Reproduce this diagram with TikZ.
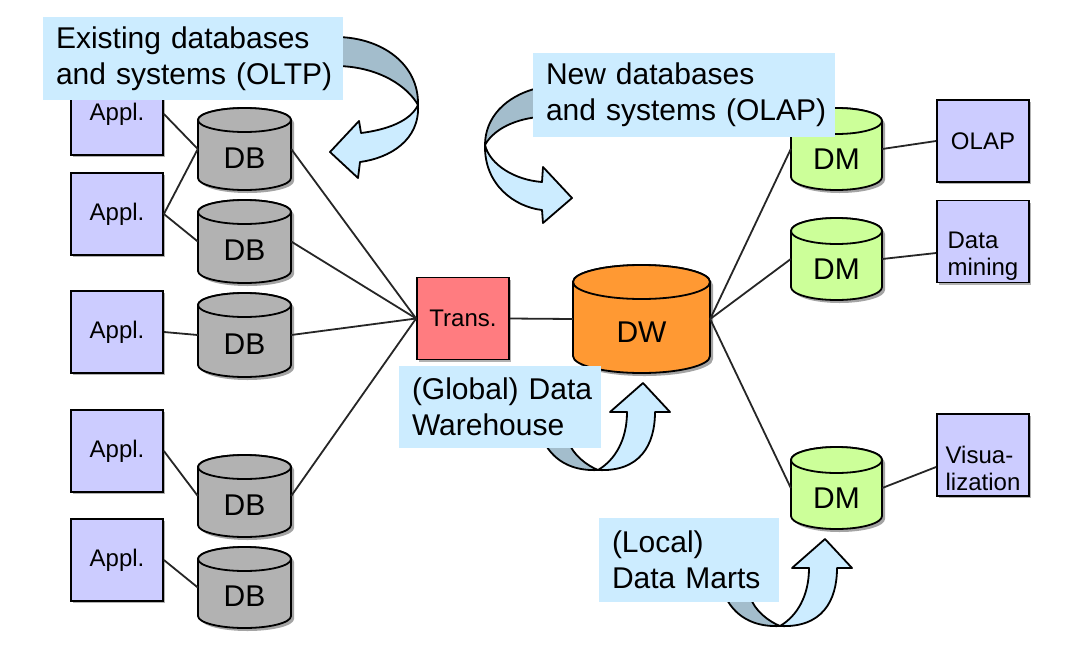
\documentclass[tikz,border=0pt]{standalone}
\usepackage{fontspec}
\setmainfont{Liberation Sans}
\usetikzlibrary{shadows}
\definecolor{applc}{RGB}{204,204,255}
\definecolor{transc}{RGB}{255,124,128}
\definecolor{dbc}{RGB}{178,178,178}
\definecolor{dwc}{RGB}{255,153,51}
\definecolor{dmc}{RGB}{204,255,153}
\definecolor{labc}{RGB}{204,236,255}
\definecolor{arrbackc}{RGB}{163,189,204}
\definecolor{shadc}{RGB}{90,90,90}

% #1 name, #2 cx, #3 cy, #4 width, #5 height, #6 ry, #7 fill, #8 text
\newcommand{\mycyl}[8]{%
  \pgfmathsetmacro{\cylrx}{#4/2}%
  \pgfmathsetmacro{\cylty}{-#5/2+#6}%
  \pgfmathsetmacro{\cylby}{#5/2-#6}%
  \begin{scope}[shift={(#2,#3)}]
    \fill[shadc, opacity=0.55] (-\cylrx+3,\cylty+3) -- (-\cylrx+3,\cylby+3)
      arc[start angle=180, end angle=0, x radius=\cylrx, y radius=#6]
      -- (\cylrx+3,\cylty+3)
      arc[start angle=0, end angle=-180, x radius=\cylrx, y radius=#6] -- cycle;
    \draw[cylline, fill=#7] (-\cylrx,\cylty) -- (-\cylrx,\cylby)
      arc[start angle=180, end angle=0, x radius=\cylrx, y radius=#6]
      -- (\cylrx,\cylty)
      arc[start angle=0, end angle=-180, x radius=\cylrx, y radius=#6] -- cycle;
    \draw[cylline, fill=#7] (0,\cylty) ellipse[x radius=\cylrx, y radius=#6];
  \end{scope}
  \node[inner sep=0pt, minimum width=#4pt, minimum height=#5pt] (#1) at (#2,#3) {};
  \node[cyltext] (#1-t) at (#2,{#3+0.75*#6}) {#8};
}
% two-line text lowered inside a box
\newcommand{\lowtwo}[3]{\raisebox{#3}[0pt][0pt]{\begin{tabular}{@{}l@{}}#1\\#2\end{tabular}}}

\begin{document}
\begin{tikzpicture}[x=1pt,y=-1pt,
  cylline/.style={line width=1.8pt, draw=black},
  cyltext/.style={inner sep=0pt, font=\fontsize{30}{34}\selectfont},
  box/.style={draw, line width=1.8pt, minimum width=92pt, minimum height=82pt,
    inner sep=0pt, align=left, font=\fontsize{24}{27}\selectfont,
    drop shadow={shadow xshift=2pt, shadow yshift=-2pt, opacity=0.3, fill=black}},
  applbox/.style={box, fill=applc},
  transbox/.style={box, fill=transc},
  labelbox/.style={fill=labc, inner sep=0pt, align=left,
    font=\fontsize{30}{36}\selectfont, execute at begin node={\leftskip=13pt}},
  conn/.style={line width=1.8pt, draw=black!85},
  arrfront/.style={draw, line width=1.8pt, fill=labc, line join=round},
  arrback/.style={draw, line width=1.8pt, fill=arrbackc, line join=round}]

\fill[white] (0,0) rectangle (1081,646);
\useasboundingbox (0,0) rectangle (1081,646);

% ---- curved arrows ----
% arrow 1 (OLTP)
\draw[arrback] (338,37) .. controls (382,38) and (419,64) .. (418,105)
  .. controls (408,87) and (380,67) .. (338,66) -- cycle;
\draw[arrfront] (418,105) .. controls (420,140) and (390,158) .. (360,162)
  -- (358,178) -- (330,152) -- (359,121) -- (361,133)
  .. controls (385,130) and (410,122) .. (418,105) -- cycle;
% arrow 2 (OLAP)
\draw[arrback] (538,88) .. controls (505,96) and (485,118) .. (485,145)
  .. controls (492,132) and (510,120) .. (538,117) -- cycle;
\draw[arrfront] (485,145) .. controls (484,185) and (515,207) .. (542,210)
  -- (543,223) -- (572,198) -- (543,167) -- (542,182)
  .. controls (515,180) and (490,165) .. (485,145) -- cycle;
% arrows 3 and 4 (up)
\foreach \sx/\sy in {0/0, 182/156}{
  \begin{scope}[shift={(\sx,\sy)}]
    \draw[arrback] (543,440) .. controls (555,465) and (578,471) .. (598,470)
      .. controls (588,466) and (572,455) .. (568,440) -- cycle;
    \draw[arrfront] (598,470) .. controls (640,472) and (655,445) .. (655,412)
      -- (670,412) -- (643,383) -- (610,412) -- (627,412)
      .. controls (627,440) and (615,460) .. (598,470) -- cycle;
  \end{scope}
}

% ---- application boxes ----
\node[applbox] (a1) at (117,114) {Appl.};
\node[applbox] (a2) at (117,214) {Appl.};
\node[applbox] (a3) at (117,332) {Appl.};
\node[applbox] (a4) at (117,451) {Appl.};
\node[applbox] (a5) at (117,560) {Appl.};

% ---- databases ----
\mycyl{db1}{244.5}{149}{93}{82}{12}{dbc}{DB}
\mycyl{db2}{244.5}{241.5}{93}{83}{12}{dbc}{DB}
\mycyl{db3}{244.5}{335}{93}{84}{12}{dbc}{DB}
\mycyl{db4}{244.5}{496}{93}{82}{12}{dbc}{DB}
\mycyl{db5}{244.5}{587.5}{93}{81}{12}{dbc}{DB}

% ---- transformation ----
\node[transbox] (trans) at (463,318.5) {Trans.};

% ---- warehouse ----
\mycyl{dw}{641.5}{319}{137}{108}{17}{dwc}{DW}

% ---- data marts ----
\mycyl{dm1}{836.5}{149}{91}{82}{13}{dmc}{DM}
\mycyl{dm2}{836.5}{259}{91}{82}{13}{dmc}{DM}
\mycyl{dm3}{836.5}{488}{91}{82}{13}{dmc}{DM}

% ---- tools ----
\node[applbox] (olap) at (983,141) {OLAP};
\node[applbox] (mining) at (983,241.5) {\lowtwo{Data}{mining}{-21pt}};
\node[applbox] (vis) at (983,455) {\lowtwo{Visua-}{lization}{-23pt}};

% ---- labels ----
\node[labelbox, text width=300pt, minimum height=83pt] (lab1) at (193,58.5)
  {Existing databases\\and systems (OLTP)};
\node[labelbox, text width=302pt, minimum height=84pt] (lab2) at (684,95)
  {New databases\\and systems (OLAP)};
\node[labelbox, text width=202pt, minimum height=82pt] (lab3) at (500,407)
  {(Global) Data\\Warehouse};
\node[labelbox, text width=180pt, minimum height=84pt] (lab4) at (689,560)
  {(Local)\\Data Marts};

% ---- connectors ----
\draw[conn] (a1.east) -- (db1.west);
\draw[conn] (a2.east) -- (db1.west);
\draw[conn] (a2.east) -- (db2.west);
\draw[conn] (a3.east) -- (db3.west);
\draw[conn] (a4.east) -- (db4.west);
\draw[conn] (a5.east) -- (db5.west);
\draw[conn] (db1.east) -- (trans.west);
\draw[conn] (db2.east) -- (trans.west);
\draw[conn] (db3.east) -- (trans.west);
\draw[conn] (db4.east) -- (trans.west);
\draw[conn] (trans.east) -- (dw.west);
\draw[conn] (dw.east) -- (dm1.west);
\draw[conn] (dw.east) -- (dm2.west);
\draw[conn] (dw.east) -- (dm3.west);
\draw[conn] (dm1.east) -- (olap.west);
\draw[conn] (dm2.east) -- ([yshift=-11.5pt]mining.west);
\draw[conn] (dm3.east) -- ([yshift=-12pt]vis.west);
\end{tikzpicture}
\end{document}
